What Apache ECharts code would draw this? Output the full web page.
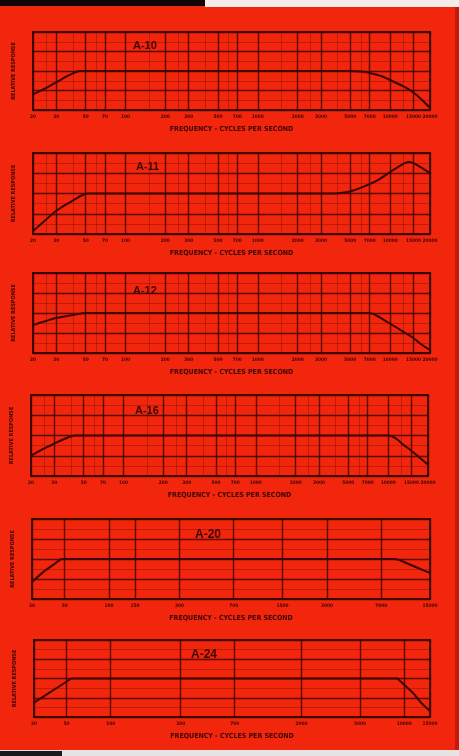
<!DOCTYPE html>
<html>
<head>
<meta charset="utf-8">
<script src="https://cdn.jsdelivr.net/npm/echarts@6/dist/echarts.min.js"></script>
<style>
  html, body { margin: 0; padding: 0; background: #f2250d; }
  #chart { width: 459px; height: 756px; }
</style>
</head>
<body>
<div id="chart"></div>
<script>
// tick labels (cycles per second)
const wideTicks = [20, 30, 50, 70, 100, 200, 300, 500, 700, 1000, 2000, 3000, 5000, 7000, 10000, 15000, 20000];
const wideMinor = [25, 40, 60, 150, 250, 400, 600, 1500, 2500, 4000, 6000, 12500];
const a20Ticks = [30, 50, 100, 150, 300, 700, 1500, 3000, 7000, 15000];
const a24Ticks = [30, 50, 100, 300, 700, 2000, 5000, 10000, 15000];

// response curves (db)
const a10Freq = [20, 25, 30, 35, 40, 45, 5000, 6000, 7000, 8500, 10000, 12500, 15000, 17500, 20000];
const a10Db = [-12, -8.8, -5.8, -3.2, -1.2, 0, 0, -0.3, -1, -2.5, -4.6, -7.8, -11, -15, -19];

const a11Freq = [20, 25, 30, 40, 52, 3700, 4500, 5250, 6500, 8000, 10500, 12500, 13700, 15000, 17000, 20000];
const a11Db = [-18.5, -13, -8.5, -3.5, 0, 0, 0.5, 1.5, 3.8, 6.5, 11.5, 14.5, 15.5, 15, 13, 10];

const a12Freq = [20, 25, 30, 40, 51, 7000, 8000, 9500, 11000, 13000, 15000, 17000, 20000];
const a12Db = [-6, -4, -2.5, -1, 0, 0, -1.5, -4.5, -7, -10, -12.5, -15.5, -18.5];

const a16Freq = [20, 25, 30, 35, 43, 10000, 11500, 13000, 15000, 17000, 20000];
const a16Db = [-10, -6.5, -4, -2, 0, 0, -1.5, -4.5, -7.5, -10.5, -14.5];

const a20Freq = [30, 36, 42, 48, 8700, 10000, 12000, 15000];
const a20Db = [-11.5, -6.3, -2.8, 0, 0, -1.5, -4, -7];

const a24Freq = [30, 54, 9000, 11500, 13000, 15000];
const a24Db = [-12.5, 0, 0, -7.5, -12.5, -17];

const ink = '#3d0603';
const red = '#f2250d';

const panels = [
  { name: 'A-10', freq: a10Freq, db: a10Db, ticks: wideTicks, minor: wideMinor, lo: 20, hi: 20000,
    grid: { left: 33, top: 32, width: 397, height: 78 }, tl: [128, 35], smooth: 0.3, fs: 11 },
  { name: 'A-11', freq: a11Freq, db: a11Db, ticks: wideTicks, minor: wideMinor, lo: 20, hi: 20000,
    grid: { left: 33, top: 153, width: 397, height: 81 }, tl: [131, 156], smooth: 0.3, fs: 11 },
  { name: 'A-12', freq: a12Freq, db: a12Db, ticks: wideTicks, minor: wideMinor, lo: 20, hi: 20000,
    grid: { left: 33, top: 273, width: 397, height: 80 }, tl: [128, 280], smooth: 0.3, fs: 11 },
  { name: 'A-16', freq: a16Freq, db: a16Db, ticks: wideTicks, minor: wideMinor, lo: 20, hi: 20000,
    grid: { left: 31, top: 395, width: 397, height: 81 }, tl: [130, 400], smooth: 0.3, fs: 11 },
  { name: 'A-20', freq: a20Freq, db: a20Db, ticks: a20Ticks, minor: [], lo: 30, hi: 15000,
    grid: { left: 32, top: 519, width: 398, height: 80 }, tl: [190, 524], smooth: 0.2, fs: 12 },
  { name: 'A-24', freq: a24Freq, db: a24Db, ticks: a24Ticks, minor: [], lo: 30, hi: 15000,
    grid: { left: 34, top: 640, width: 396, height: 77 }, tl: [186, 644], smooth: 0, fs: 12 }
];

const lg = v => Math.log10(v);
const fmtHz = v => String(Math.round(Math.pow(10, v)));

const grids = [], xAxes = [], yAxes = [], series = [], titles = [];

panels.forEach((p, i) => {
  grids.push(Object.assign({ show: true, borderColor: ink, borderWidth: 2, backgroundColor: 'transparent' }, p.grid));

  xAxes.push({
    type: 'value', gridIndex: i, min: lg(p.lo), max: lg(p.hi),
    name: 'FREQUENCY - CYCLES PER SECOND', nameLocation: 'middle', nameGap: 16,
    nameTextStyle: { color: ink, fontSize: 7, fontWeight: 'bold', fontFamily: 'DejaVu Sans Condensed' },
    axisLine: { show: false },
    axisTick: { show: false, customValues: p.ticks.map(lg) },
    axisLabel: { customValues: p.ticks.map(lg), formatter: fmtHz, color: ink, fontSize: 4.8, margin: 4,
      showMinLabel: true, showMaxLabel: true, hideOverlap: false,
      fontFamily: 'DejaVu Sans Condensed', fontWeight: 'bold' },
    splitLine: { show: true, lineStyle: { color: ink, width: 1.4, opacity: 0.85 } }
  });
  // faint intermediate lines
  xAxes.push({
    type: 'value', gridIndex: i, min: lg(p.lo), max: lg(p.hi), position: 'top',
    axisLine: { show: false },
    axisTick: { show: false, customValues: p.minor.length ? p.minor.map(lg) : [lg(p.lo)] },
    axisLabel: { show: false },
    splitLine: { show: p.minor.length > 0, lineStyle: { color: ink, width: 0.8, opacity: 0.35 } }
  });

  yAxes.push({
    type: 'value', gridIndex: i, min: -20, max: 20, interval: 10,
    name: 'RELATIVE RESPONSE', nameLocation: 'middle', nameGap: 16, nameRotate: 90,
    nameTextStyle: { color: ink, fontSize: 5.5, fontWeight: 'bold', fontFamily: 'DejaVu Sans Condensed' },
    axisLine: { show: false }, axisTick: { show: false }, axisLabel: { show: false },
    splitLine: { show: true, lineStyle: { color: ink, width: 1.4, opacity: 0.85 } },
    minorTick: { show: false, splitNumber: 2 },
    minorSplitLine: { show: true, lineStyle: { color: ink, width: 0.8, opacity: 0.35 } }
  });

  series.push({
    type: 'line', xAxisIndex: i * 2, yAxisIndex: i,
    data: p.freq.map((f, k) => [lg(f), p.db[k]]),
    showSymbol: false, smooth: p.smooth,
    lineStyle: { color: ink, width: 2 }
  });

  titles.push({
    text: p.name, left: p.tl[0], top: p.tl[1],
    textStyle: { color: ink, fontSize: p.fs, fontWeight: 'bold', fontFamily: 'Liberation Sans' }
  });
});

const chart = echarts.init(document.getElementById('chart'), null, { renderer: 'canvas' });
chart.setOption({
  animation: false,
  backgroundColor: red,
  title: titles,
  grid: grids,
  xAxis: xAxes,
  yAxis: yAxes,
  series: series,
  graphic: [
    { type: 'rect', shape: { x: 0, y: 0, width: 205, height: 6 }, style: { fill: '#120404' } },
    { type: 'rect', shape: { x: 205, y: 0, width: 254, height: 7 }, style: { fill: '#f4ece8' } },
    { type: 'rect', shape: { x: 0, y: 750, width: 459, height: 6 }, style: { fill: '#e8e4e6' } },
    { type: 'rect', shape: { x: 0, y: 751, width: 62, height: 5 }, style: { fill: '#1a1a1e' } },
    { type: 'rect', shape: { x: 455, y: 7, width: 4, height: 743 }, style: { fill: '#c41a0a' } }
  ]
});
</script>
</body>
</html>
